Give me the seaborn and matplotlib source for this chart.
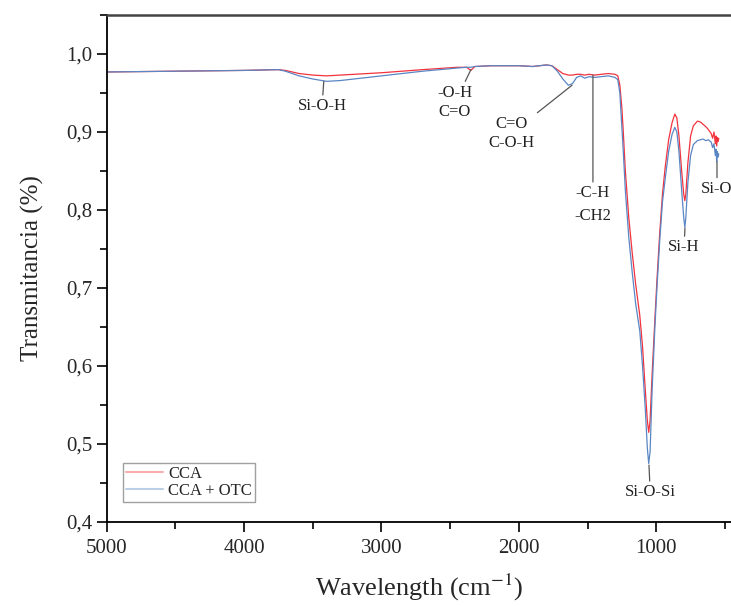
import numpy as np
import pandas as pd
import matplotlib
matplotlib.use('Agg')
import matplotlib.pyplot as plt
from matplotlib.ticker import MultipleLocator, FuncFormatter
import seaborn as sns

# wavenumber (cm-1) and transmittance
wavenumber = [5000, 4500, 4000, 3750, 3700, 3600, 3500, 3400, 3300, 3000,
              2700, 2450, 2380, 2350, 2320, 2200, 2000, 1900, 1800, 1760,
              1720, 1680, 1640, 1610, 1580, 1550, 1520, 1490, 1450, 1400,
              1350, 1300, 1280, 1265, 1250, 1240, 1225, 1200, 1175, 1150,
              1120, 1100, 1080, 1065, 1055, 1045, 1030, 1010, 995, 975,
              955, 935, 910, 885, 865, 850, 835, 815, 800, 792,
              785, 770, 750, 730, 700, 680, 660, 640, 620, 600,
              590, 580, 570, 565, 560, 555, 550, 545]

cca = [0.977, 0.978, 0.979, 0.980, 0.979, 0.975, 0.973, 0.972, 0.973, 0.976,
       0.980, 0.983, 0.983, 0.979, 0.984, 0.985, 0.985, 0.984, 0.986, 0.985,
       0.980, 0.975, 0.973, 0.973, 0.974, 0.974, 0.973, 0.974, 0.973, 0.974,
       0.975, 0.974, 0.972, 0.960, 0.930, 0.900, 0.850, 0.790, 0.745, 0.705,
       0.665, 0.625, 0.570, 0.530, 0.515, 0.530, 0.590, 0.660, 0.710, 0.770,
       0.820, 0.855, 0.890, 0.912, 0.923, 0.918, 0.895, 0.850, 0.820, 0.812,
       0.820, 0.860, 0.895, 0.908, 0.914, 0.913, 0.910, 0.907, 0.903, 0.898,
       0.892, 0.900, 0.885, 0.895, 0.882, 0.893, 0.888, 0.892]

cca_otc = [0.977, 0.978, 0.979, 0.980, 0.978, 0.972, 0.968, 0.965, 0.966, 0.972,
           0.978, 0.982, 0.983, 0.983, 0.984, 0.985, 0.985, 0.984, 0.986, 0.985,
           0.978, 0.968, 0.960, 0.962, 0.970, 0.972, 0.969, 0.971, 0.970, 0.971,
           0.972, 0.970, 0.967, 0.950, 0.905, 0.875, 0.825, 0.765, 0.720, 0.680,
           0.645, 0.600, 0.545, 0.495, 0.475, 0.490, 0.570, 0.650, 0.700, 0.760,
           0.810, 0.840, 0.875, 0.897, 0.906, 0.900, 0.875, 0.825, 0.790, 0.778,
           0.790, 0.835, 0.870, 0.884, 0.889, 0.890, 0.891, 0.889, 0.890, 0.887,
           0.880, 0.885, 0.870, 0.878, 0.862, 0.875, 0.868, 0.872]

series_names = ['CCA', 'CCA + OTC']
series_colors = ['#f2333d', '#5a86c4']

# band labels: text, peak position, label position
band_labels = ['Si-O-H', '-O-H\nC=O', 'C=O\nC-O-H', '-C-H\n-CH2', 'Si-H', 'Si-O-Si', 'Si-O']
band_peaks = [(3420, 0.965), (2349, 0.980), (1613, 0.960), (1461, 0.973),
              (791, 0.777), (1053, 0.473), (558, 0.862)]
band_text = [(3433, 0.933), (2465, 0.938), (2057, 0.898), (1461, 0.807),
             (798, 0.752), (1044, 0.438), (558, 0.827)]

df = pd.DataFrame({
    'wavenumber': wavenumber * 2,
    'transmitancia': cca + cca_otc,
    'muestra': [series_names[0]] * len(cca) + [series_names[1]] * len(cca_otc),
})

sns.set_style('ticks')
plt.rcParams['font.family'] = ['Liberation Serif', 'DejaVu Serif']
plt.rcParams['mathtext.fontset'] = 'stix'

fig = plt.figure(figsize=(7.31, 6.06), dpi=100)
ax = fig.add_axes([0.146, 0.1386, 0.854, 0.8366])

sns.lineplot(data=df, x='wavenumber', y='transmitancia', hue='muestra',
             palette=series_colors, linewidth=0.9, ax=ax, legend=False,
             estimator=None)

ax.set_xlim(5000, 456)
ax.set_ylim(0.4, 1.05)

ax.xaxis.set_major_locator(MultipleLocator(1000))
ax.xaxis.set_minor_locator(MultipleLocator(500))
ax.yaxis.set_major_locator(MultipleLocator(0.1))
ax.yaxis.set_minor_locator(MultipleLocator(0.05))
ax.yaxis.set_major_formatter(FuncFormatter(lambda v, p: f'{v:.1f}'.replace('.', ',')))
ax.xaxis.set_major_formatter(FuncFormatter(lambda v, p: f'{v:.0f}'))

ax.tick_params(axis='both', which='major', direction='out', length=7, width=1.2,
               labelsize=15, color='black', labelfontfamily='Liberation Serif')
ax.tick_params(axis='both', which='minor', direction='out', length=5, width=1.2,
               color='black')
ax.tick_params(axis='x', pad=5)

for side in ['left', 'bottom']:
    ax.spines[side].set_linewidth(1.3)
    ax.spines[side].set_color('black')
ax.spines['top'].set_linewidth(1.8)
ax.spines['top'].set_color('#444444')
ax.spines['right'].set_visible(False)

ax.set_xlabel('Wavelength (cm$^{-1}$)', fontsize=19, labelpad=10)
ax.set_ylabel('Transmitancia (%)', fontsize=18, labelpad=16)

# band annotations
for txt, peak, pos in zip(band_labels, band_peaks, band_text):
    ls = 1.55 if txt.startswith('-C-H') else 1.3
    ax.annotate(txt, xy=peak, xytext=pos, ha='center', va='center',
                fontsize=12, linespacing=ls, color='#222222',
                annotation_clip=False,
                arrowprops=dict(arrowstyle='-', color='#555555', lw=0.9,
                                shrinkA=0, shrinkB=0))

# legend
handles = [plt.Line2D([], [], color=c, lw=1.5, alpha=0.4) for c in series_colors]
leg = ax.legend(handles, series_names, loc='lower left', bbox_to_anchor=(0.026, 0.039),
                borderaxespad=0, fontsize=12, frameon=True, fancybox=False,
                handlelength=2.2, handletextpad=0.3, labelspacing=0.05,
                borderpad=0.2)
leg.get_frame().set_edgecolor('#888888')
leg.get_frame().set_linewidth(1.0)

fig.savefig('out.png', dpi=100)
